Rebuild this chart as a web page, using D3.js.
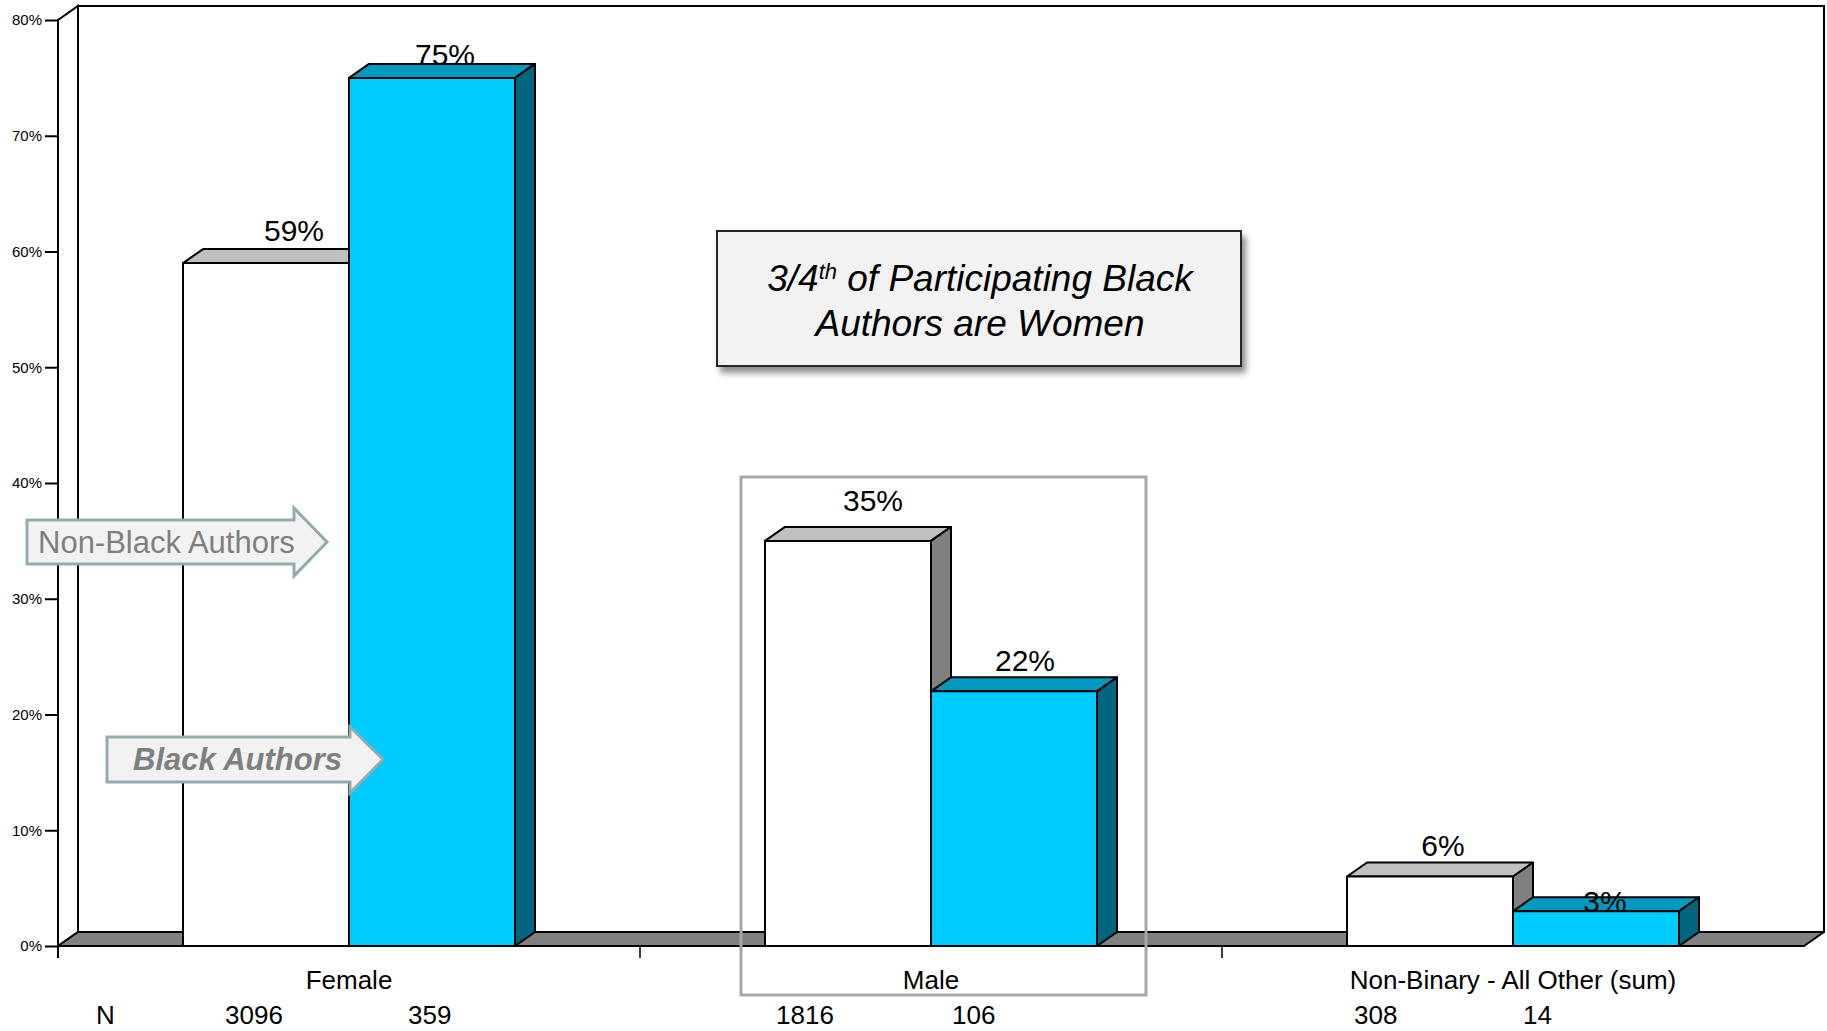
<!DOCTYPE html>
<html>
<head>
<meta charset="utf-8">
<script src="https://cdn.jsdelivr.net/npm/d3@7"></script>
<style>
  body { margin: 0; background: #fff; }
  svg { display: block; }
  text { font-family: "Liberation Sans", Arial, Helvetica, sans-serif; }
</style>
</head>
<body>
<svg id="chart" width="1827" height="1031"></svg>
<script>
// ---- data ----
const categories = ["Female", "Male", "Non-Binary - All Other (sum)"];
const series = ["Non-Black Authors", "Black Authors"];
const nonBlackPct = [59, 35, 6];
const blackPct = [75, 22, 3];
const nonBlackN = [3096, 1816, 308];
const blackN = [359, 106, 14];
const yTicks = [0, 10, 20, 30, 40, 50, 60, 70, 80];

// ---- layout ----
const W = 1827, H = 1031;
const plot = { left: 58, right: 1804, top: 20, bottom: 946 };
const depth = { dx: 20, dy: -14 };

// hand-placed label nudges [x, y] per series, per category
const labelNudge = [
  [[18, -22], [15, -30], [3, -21]],
  [[3, -13], [1, -20], [-1, 1]]
];
// positions of the N counts relative to each category's left edge
const nOffset = [[167, 350], [136, 312], [132, 301]];

const faces = [
  { front: "#ffffff", top: "#c0c0c0", side: "#808080" },
  { front: "#00ccff", top: "#0099bf", side: "#00667f" }
];

const svg = d3.select("#chart");
svg.append("rect").attr("width", W).attr("height", H).attr("fill", "#fff");

const defs = svg.append("defs");
const shadow = defs.append("filter").attr("id", "shadow")
  .attr("x", "-10%").attr("y", "-10%").attr("width", "130%").attr("height", "140%");
shadow.append("feDropShadow").attr("dx", 4).attr("dy", 6)
  .attr("stdDeviation", 3).attr("flood-color", "#000").attr("flood-opacity", 0.45);

const x0 = d3.scaleBand().domain(categories).range([plot.left, plot.right]);
const x1 = d3.scaleBand().domain(series).range([0, x0.bandwidth()])
  .paddingInner(0).paddingOuter(0.753);
const y = d3.scaleLinear().domain([0, 80]).range([plot.bottom, plot.top]);

const rows = categories.map((c, i) => ({
  cat: c,
  vals: [nonBlackPct[i], blackPct[i]],
  ns: [nonBlackN[i], blackN[i]]
}));

const y0 = y(0), yMax = y(80);
const bx = plot.left + depth.dx, by = y0 + depth.dy, bt = yMax + depth.dy;
const bRight = plot.right + depth.dx;
const line = d3.line();

// back wall
svg.append("path")
  .attr("d", line([[bx, bt], [bRight, bt], [bRight, by], [bx, by]]) + "Z")
  .attr("fill", "#fff").attr("stroke", "#000").attr("stroke-width", 2);
// left wall
svg.append("path")
  .attr("d", line([[plot.left, yMax], [bx, bt], [bx, by], [plot.left, y0]]) + "Z")
  .attr("fill", "#fff").attr("stroke", "#000").attr("stroke-width", 2);
// floor
svg.append("path")
  .attr("d", line([[plot.left, y0], [bx, by], [bRight, by], [plot.right, y0]]) + "Z")
  .attr("fill", "#808080").attr("stroke", "#000").attr("stroke-width", 2)
  .attr("stroke-linejoin", "round");

// bars
const groups = svg.append("g").selectAll("g").data(rows).join("g");
groups.each(function(d) {
  const g = d3.select(this);
  d.vals.forEach((v, s) => {
    const xl = x0(d.cat) + x1(series[s]);
    const xr = xl + x1.bandwidth();
    const yt = y(v);
    const f = faces[s];
    const bar = g.append("g").attr("stroke", "#000").attr("stroke-width", 2)
      .attr("stroke-linejoin", "round");
    bar.append("path")
      .attr("d", line([[xl, yt], [xl + depth.dx, yt + depth.dy], [xr + depth.dx, yt + depth.dy], [xr, yt]]) + "Z")
      .attr("fill", f.top);
    bar.append("path")
      .attr("d", line([[xr, yt], [xr + depth.dx, yt + depth.dy], [xr + depth.dx, y0 + depth.dy], [xr, y0]]) + "Z")
      .attr("fill", f.side);
    bar.append("rect")
      .attr("x", xl).attr("y", yt).attr("width", xr - xl).attr("height", y0 - yt)
      .attr("fill", f.front);
  });
});

// value labels
groups.each(function(d, i) {
  const g = d3.select(this);
  d.vals.forEach((v, s) => {
    const cx = x0(d.cat) + x1(series[s]) + x1.bandwidth() / 2 + depth.dx / 2;
    g.append("text")
      .attr("x", cx + labelNudge[s][i][0])
      .attr("y", y(v) + labelNudge[s][i][1])
      .attr("text-anchor", "middle")
      .attr("font-size", 30)
      .attr("fill", "#000")
      .text(v + "%");
  });
});

// front floor edge + y axis line
svg.append("line").attr("x1", plot.left).attr("x2", plot.right)
  .attr("y1", y0).attr("y2", y0).attr("stroke", "#000").attr("stroke-width", 2);
svg.append("line").attr("x1", plot.left).attr("x2", plot.left)
  .attr("y1", yMax).attr("y2", y0 + 12).attr("stroke", "#000").attr("stroke-width", 2);

// y axis ticks and labels
const yAxis = d3.axisLeft(y).tickValues(yTicks).tickFormat(d => d + "%")
  .tickSize(13).tickPadding(3);
const ya = svg.append("g").attr("transform", `translate(${plot.left},0)`).call(yAxis);
ya.select(".domain").remove();
ya.selectAll(".tick line").attr("stroke", "#000").attr("stroke-width", 2);
ya.selectAll(".tick text").attr("font-size", 15).attr("fill", "#000")
  .attr("font-family", "'Liberation Sans', Arial, sans-serif");

// category separators and labels
svg.append("g").selectAll("line").data(categories.slice(1)).join("line")
  .attr("x1", d => x0(d)).attr("x2", d => x0(d))
  .attr("y1", y0).attr("y2", y0 + 12)
  .attr("stroke", "#000").attr("stroke-width", 1.5);
svg.append("g").selectAll("text").data(categories).join("text")
  .attr("x", d => x0(d) + x0.bandwidth() / 2)
  .attr("y", 989)
  .attr("text-anchor", "middle")
  .attr("font-size", 26)
  .attr("fill", "#000")
  .text(d => d);

// N counts row
svg.append("text").attr("x", 96).attr("y", 1024).attr("font-size", 26)
  .attr("fill", "#000").text("N");
rows.forEach((d, i) => {
  d.ns.forEach((n, s) => {
    svg.append("text")
      .attr("x", x0(d.cat) + nOffset[i][s])
      .attr("y", 1024)
      .attr("font-size", 26)
      .attr("fill", "#000")
      .text(n);
  });
});

// highlight box around the Male group
const mx = x0("Male");
svg.append("rect")
  .attr("x", mx + 101).attr("y", 477)
  .attr("width", 405).attr("height", 518)
  .attr("fill", "none").attr("stroke", "#a6a6a6").attr("stroke-width", 3);

// callout box
const note = svg.append("g");
note.append("rect")
  .attr("x", 717).attr("y", 231).attr("width", 524).attr("height", 135)
  .attr("fill", "#f2f2f2").attr("stroke", "#262626").attr("stroke-width", 2)
  .attr("filter", "url(#shadow)");
const t1 = note.append("text")
  .attr("x", 980).attr("y", 291).attr("text-anchor", "middle")
  .attr("font-size", 37).attr("font-style", "italic").attr("fill", "#000");
t1.append("tspan").text("3/4");
t1.append("tspan").attr("font-size", 22).attr("dy", -12).text("th");
t1.append("tspan").attr("dy", 12).text(" of Participating Black");
note.append("text")
  .attr("x", 980).attr("y", 336).attr("text-anchor", "middle")
  .attr("font-size", 37).attr("font-style", "italic").attr("fill", "#000")
  .text("Authors are Women");

// series arrows
function arrow(x, yTop, yBot, headX, headTop, headBot, tipX) {
  const yMid = (yTop + yBot) / 2;
  return line([[x, yTop], [headX, yTop], [headX, headTop], [tipX, yMid],
               [headX, headBot], [headX, yBot], [x, yBot]]) + "Z";
}
const arrows = [
  { d: arrow(27, 520, 564, 294, 508, 576, 327), tx: 38, ty: 553, bold: false },
  { d: arrow(107, 737, 782, 350, 727, 793, 383), tx: 133, ty: 770, bold: true }
];
arrows.forEach((a, s) => {
  svg.append("path").attr("d", a.d)
    .attr("fill", "#f2f2f2").attr("stroke", "#93abad").attr("stroke-width", 3);
  svg.append("text")
    .attr("x", a.tx).attr("y", a.ty)
    .attr("font-size", 31)
    .attr("font-weight", a.bold ? "bold" : "normal")
    .attr("font-style", a.bold ? "italic" : "normal")
    .attr("fill", "#7f7f7f")
    .text(series[s]);
});
</script>
</body>
</html>
